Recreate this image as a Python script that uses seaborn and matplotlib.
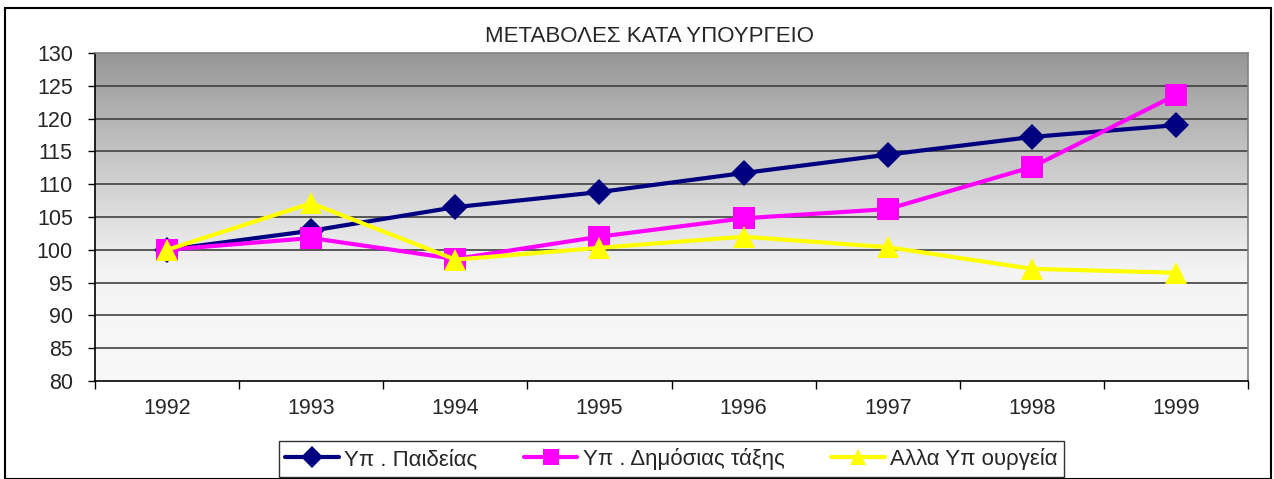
import seaborn as sns
import matplotlib.pyplot as plt
import numpy as np
import pandas as pd
from matplotlib.patches import Rectangle
from matplotlib.colors import LinearSegmentedColormap

years = [1992, 1993, 1994, 1995, 1996, 1997, 1998, 1999]
paideia = [100.0, 102.9, 106.5, 108.8, 111.7, 114.5, 117.2, 119.0]
dimosia_taxi = [100.0, 101.8, 98.6, 102.0, 104.8, 106.2, 112.6, 123.6]
alla = [100.0, 107.1, 98.5, 100.3, 102.0, 100.4, 97.1, 96.5]
series_names = ['Υπ . Παιδείας', 'Υπ . Δημόσιας τάξης', 'Αλλα Υπ ουργεία']
colors = ['#000080', '#ff00ff', '#ffff00']

frame = pd.DataFrame({'year': years * 3,
                      'value': paideia + dimosia_taxi + alla,
                      'series': sum([[n] * len(years) for n in series_names], [])})

sns.set_style('white')
plt.rcParams['font.family'] = ['Liberation Sans', 'DejaVu Sans']

fig = plt.figure(figsize=(12.74, 4.79), dpi=100)
ax = fig.add_axes([0.0746, 0.2046, 0.905, 0.6848])

# gradient background: dark grey on top, near white at bottom
grad = np.linspace(0, 1, 256).reshape(-1, 1)
bg_cmap = LinearSegmentedColormap.from_list('bg', ['#f8f8f8', '#f4f4f4', '#c8c8c8', '#969696'])
ax.imshow(grad, aspect='auto', cmap=bg_cmap,
          extent=(1991.5, 1999.5, 80, 130), origin='lower', zorder=0)

sns.lineplot(data=frame, x='year', y='value', hue='series', style='series',
             markers=['D', 's', '^'], dashes=False, palette=colors, ax=ax,
             linewidth=3, markersize=16, markeredgewidth=0, zorder=3)
# diamonds look a bit smaller than squares in the original
for ln in ax.lines:
    if ln.get_marker() == 'D':
        ln.set_markersize(13)

ax.set_xlim(1991.5, 1999.5)
ax.set_ylim(80, 130)
ax.set_yticks(range(80, 131, 5))
ax.set_xticks(years)
ax.set_xticks(np.arange(1991.5, 1999.6, 1), minor=True)
ax.tick_params(axis='x', which='major', length=0, pad=12, labelsize=15.5)
ax.tick_params(axis='x', which='minor', length=6, width=1, color='black', direction='out', bottom=True)
ax.tick_params(axis='y', length=5, width=1, color='black', direction='out', left=True,
               labelsize=15.5, pad=11)
for y in range(85, 130, 5):
    ax.axhline(y, color='#404040', linewidth=1.2, zorder=1)
ax.set_xlabel('')
ax.set_ylabel('')
for side in ['left', 'bottom']:
    ax.spines[side].set_color('black')
    ax.spines[side].set_linewidth(1.2)
for side in ['top', 'right']:
    ax.spines[side].set_color('#808080')
    ax.spines[side].set_linewidth(1.2)

ax.set_title('ΜΕΤΑΒΟΛΕΣ ΚΑΤΑ ΥΠΟΥΡΓΕΙΟ', fontsize=16, pad=8, x=0.481)

handles, labels = ax.get_legend_handles_labels()
for h in handles:
    h.set_markersize(11)
leg = ax.legend(handles, labels, loc='lower center', bbox_to_anchor=(0.527, 0.0),
                bbox_transform=fig.transFigure, ncol=3, fontsize=16, frameon=True,
                fancybox=False, edgecolor='black', handlelength=2.4, handletextpad=0.25,
                columnspacing=2.1, borderpad=0.3, borderaxespad=0.1)
leg.get_frame().set_linewidth(1)

fig.patches.append(Rectangle((0.004, 0.0), 0.994, 0.983, transform=fig.transFigure,
                             fill=False, edgecolor='black', linewidth=1.5))

fig.savefig('out.png', dpi=100)
